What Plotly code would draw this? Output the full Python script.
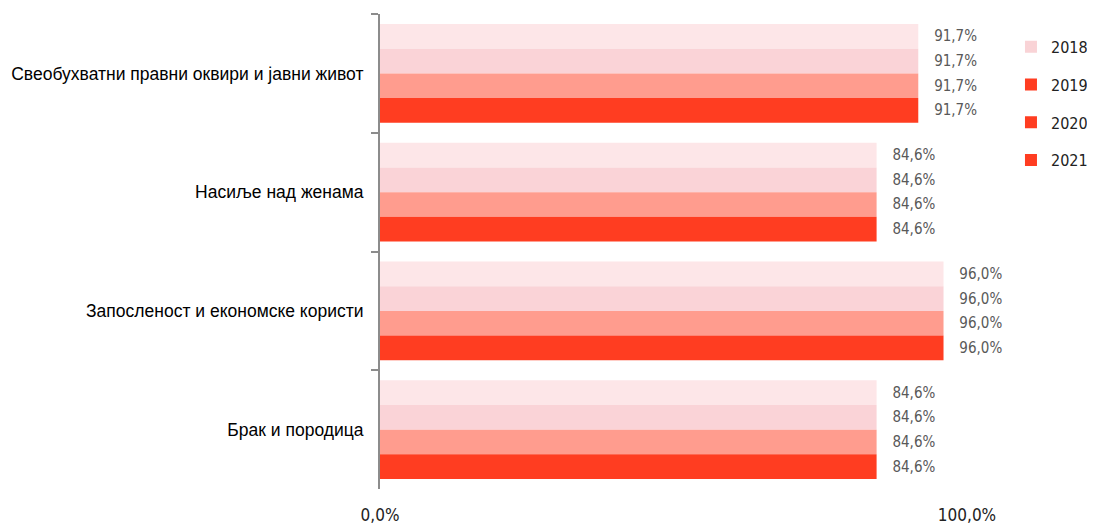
import plotly.graph_objects as go

# data
categories = [
    "Свеобухватни правни оквири и јавни живот",
    "Насиље над женама",
    "Запосленост и економске користи",
    "Брак и породица",
]
years = ["2018", "2019", "2020", "2021"]
values_2018 = [91.7, 84.6, 96.0, 84.6]
values_2019 = [91.7, 84.6, 96.0, 84.6]
values_2020 = [91.7, 84.6, 96.0, 84.6]
values_2021 = [91.7, 84.6, 96.0, 84.6]
x_ticks = [0, 100]
x_tick_labels = ["0,0%", "100,0%"]

series = [values_2018, values_2019, values_2020, values_2021]
bar_colors = ["#fde6e8", "#fad3d7", "#ff9c8e", "#ff3d21"]
legend_colors = ["#f9d3d6", "#ff3d21", "#ff3d21", "#ff3d21"]

label_font = "Liberation Sans, Arial, sans-serif"
narrow = "DejaVu Sans Condensed, sans-serif"

fig = go.Figure()

for year, vals, color in zip(years, series, bar_colors):
    fig.add_trace(go.Bar(
        x=vals,
        y=categories,
        orientation="h",
        marker=dict(color=color, line=dict(width=0)),
        texttemplate="   %{x:.1f}%",
        textposition="outside",
        constraintext="none",
        cliponaxis=False,
        textfont=dict(family=narrow, size=15, color="#595959"),
        showlegend=False,
        hoverinfo="skip",
    ))

# legend entries (swatches differ from the bars in the original)
for year, color in zip(years, legend_colors):
    fig.add_trace(go.Scatter(
        x=[None],
        y=[None],
        mode="markers",
        marker=dict(symbol="square", size=12, color=color),
        name=year,
        legendgroup=year,
    ))

# page body has an 8px margin, so the figure is a bit smaller than the window
fig.update_layout(
    width=1087,
    height=518,
    barmode="group",
    bargap=0.168,
    bargroupgap=0,
    separators=",.",
    plot_bgcolor="white",
    paper_bgcolor="white",
    margin=dict(l=372, r=128, t=6, b=37, autoexpand=False),
    font=dict(family=label_font, color="#000000"),
    legend=dict(
        xref="container",
        yref="container",
        x=0.9227,
        y=0.958,
        xanchor="left",
        yanchor="top",
        tracegroupgap=14,
        font=dict(family=narrow, size=16, color="#222222"),
        itemwidth=30,
    ),
)

fig.update_yaxes(
    autorange="reversed",
    automargin=False,
    showline=True,
    linecolor="#8c8c8c",
    linewidth=2,
    ticks="outside",
    tickson="boundaries",
    ticklen=7,
    tickwidth=2,
    tickcolor="#8c8c8c",
    showgrid=False,
    tickfont=dict(family=label_font, size=17.5, color="#000000"),
    ticklabelstandoff=11,
)

fig.update_xaxes(
    range=[0, 100],
    automargin=False,
    tickvals=x_ticks,
    ticktext=x_tick_labels,
    showgrid=True,
    gridcolor="#d9d9d9",
    gridwidth=2,
    zeroline=False,
    showline=False,
    tickfont=dict(family=narrow, size=17, color="#222222"),
    ticklabelstandoff=14,
)

fig.write_html("out.html")
